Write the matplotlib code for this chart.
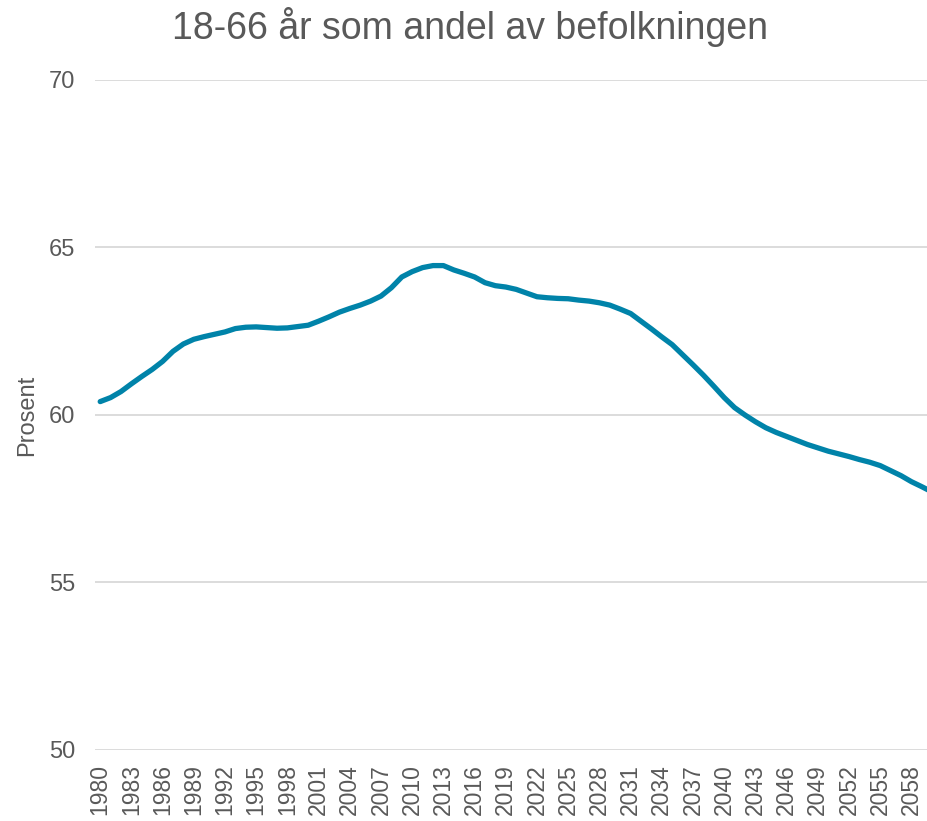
import matplotlib.pyplot as plt
import numpy as np

plt.rcParams['font.family'] = ['Liberation Sans', 'DejaVu Sans']

years = list(range(1980, 2061))
andel = [
    60.40, 60.52, 60.70, 60.93, 61.15, 61.36, 61.60, 61.90, 62.12, 62.26,
    62.34, 62.41, 62.48, 62.58, 62.62, 62.63, 62.61, 62.59, 62.60, 62.64,
    62.68, 62.80, 62.93, 63.07, 63.18, 63.28, 63.40, 63.55, 63.80, 64.12,
    64.28, 64.40, 64.46, 64.46, 64.33, 64.23, 64.12, 63.95, 63.86, 63.82,
    63.75, 63.64, 63.53, 63.50, 63.48, 63.47, 63.43, 63.40, 63.35, 63.28,
    63.16, 63.03, 62.80, 62.57, 62.33, 62.10, 61.80, 61.50, 61.19, 60.86,
    60.52, 60.22, 60.00, 59.80, 59.62, 59.48, 59.36, 59.24, 59.12, 59.02,
    58.92, 58.84, 58.76, 58.67, 58.59, 58.49, 58.34, 58.19, 58.01, 57.86,
    57.70,
]
tick_years = list(range(1980, 2059, 3))
y_ticks = [50, 55, 60, 65, 70]

grey = '#595959'

fig = plt.figure(figsize=(9.27, 8.21), dpi=100)
ax = fig.add_axes([95 / 927, 71 / 821, 832 / 927, 670 / 821])

ax.plot(years, andel, color='#0083A9', lw=3.8, solid_capstyle='round')

ax.set_xlim(1979.5, 2059.5)
ax.set_ylim(50, 70)
ax.set_yticks(y_ticks)
ax.set_xticks(tick_years)
ax.set_xticklabels([str(y) for y in tick_years], rotation=90)
ax.grid(axis='y', color='#d9d9d9', lw=1.3)
ax.set_axisbelow(True)
for s in ax.spines.values():
    s.set_visible(False)
ax.tick_params(axis='both', length=0, labelcolor=grey, labelsize=16.5)
ax.tick_params(axis='y', pad=14, labelsize=17)
ax.tick_params(axis='x', pad=10)

ax.set_ylabel('Prosent', color=grey, fontsize=17, labelpad=8)
fig.text(470 / 927, 1 - 27 / 821, '18-66 år som andel av befolkningen',
         ha='center', va='center', color=grey, fontsize=27)

fig.savefig('out.png', dpi=100)
